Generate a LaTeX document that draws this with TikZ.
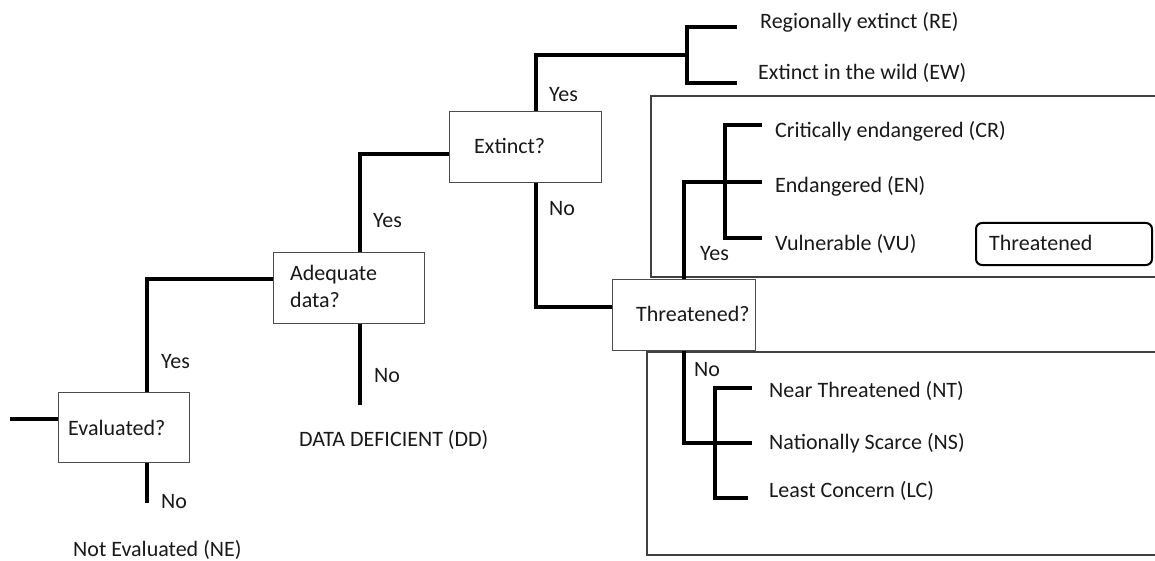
\documentclass[tikz,border=0pt]{standalone}
\usepackage{fontspec}
\setmainfont{Carlito}
\begin{document}
\begin{tikzpicture}[x=1pt,y=-1pt,font=\fontsize{22}{27}\selectfont,
  branch/.style={line width=4pt},
  fork/.style={line width=3.3pt},
  framebox/.style={draw=black!75,line width=1.2pt},
  decision/.style={draw=black!70,fill=white,line width=1pt,inner sep=0pt},
  lbl/.style={anchor=base west,inner sep=0pt,text=black!90}]
\useasboundingbox (0,0) rectangle (1155,561);
\clip (0,0) rectangle (1155,561);
% frames
\draw[framebox] (1160,96) -- (651,96) -- (651,277) -- (1160,277);
\draw[framebox] (1160,352) -- (647,352) -- (647,555) -- (1160,555);
% decision boxes
\node[decision, minimum width=131pt, minimum height=70pt] (eval) at (123.5,427) {};
\node[lbl] (evalt) at (68,435) {Evaluated?};
\node[decision, minimum width=151pt, minimum height=71pt] (adeq) at (348.5,287.5) {};
\node[lbl] (adeqt) at (290,280) {Adequate};
\node[lbl] (adeqt2) at (290,307) {data?};
\node[decision, minimum width=152pt, minimum height=71pt] (ext) at (525,147.5) {};
\node[lbl] (extt) at (474,154) {Extinct?};
\node[decision, minimum width=143pt, minimum height=71pt] (thr) at (683.5,314.5) {};
\node[lbl] (thrt) at (636,321) {Threatened?};
% tag box
\node[draw, line width=2pt, rounded corners=6pt, minimum width=176pt, minimum height=42pt, inner sep=0pt] (tag) at (1064,244) {};
\node[lbl] (tagt) at (989,250) {Threatened};
% coordinates
\coordinate (in) at (10,419);
\coordinate (c1) at (147,279);
\coordinate (ne) at (147,503);
\coordinate (c2) at (360,154);
\coordinate (dd) at (360,405);
\coordinate (c3) at (536,55);
\coordinate (f1) at (687,55);
\coordinate (re) at (737,27);
\coordinate (ew) at (737,83);
\coordinate (c4) at (536,307);
\coordinate (c5) at (762,182);
\coordinate (fx) at (725,182);
\coordinate (cr) at (762,125);
\coordinate (vu) at (762,238);
\coordinate (c6) at (752,443);
\coordinate (fy) at (715,443);
\coordinate (nt) at (752,388);
\coordinate (lc) at (748,498);
% connectors
\draw[branch] (in) -- (in -| eval.west);
\draw[branch] (c1 |- eval.north) -- (c1) -- (c1 -| adeq.west);
\draw[branch] (ne |- eval.south) -- (ne);
\draw[branch] (c2 |- adeq.north) -- (c2) -- (c2 -| ext.west);
\draw[branch] (dd |- adeq.south) -- (dd);
\draw[branch] (c3 |- ext.north) -- (c3) -- (f1);
\draw[fork] (re) -- (re -| f1) -- (ew -| f1) -- (ew);
\draw[branch] (c4 |- ext.south) -- (c4) -- (c4 -| thr.west);
\draw[branch] (thr.north) -- (thr.north |- c5) -- (c5);
\draw[fork] (cr) -- (cr -| fx) -- (vu -| fx) -- (vu);
\draw[branch] (thr.south) -- (thr.south |- c6) -- (c6);
\draw[fork] (nt) -- (nt -| fy) -- (lc -| fy) -- (lc);
% labels
\node[lbl] (y1) at (161,368) {Yes};
\node[lbl] (n1) at (161,508) {No};
\node[lbl] (ne_t) at (73,556) {Not Evaluated (NE)};
\node[lbl] (y2) at (373,228) {Yes};
\node[lbl] (n2) at (374,382) {No};
\node[lbl] (dd_t) at (299,446.5) {DATA DEFICIENT (DD)};
\node[lbl] (y3) at (549,102) {Yes};
\node[lbl] (n3) at (549,215) {No};
\node[lbl] (re_t) at (760,29) {Regionally extinct (RE)};
\node[lbl] (ew_t) at (758,80) {Extinct in the wild (EW)};
\node[lbl] (cr_t) at (775,138) {Critically endangered (CR)};
\node[lbl] (en_t) at (775,193) {Endangered (EN)};
\node[lbl] (vu_t) at (775,250) {Vulnerable (VU)};
\node[lbl] (y4) at (700,260) {Yes};
\node[lbl] (n4) at (694,376) {No};
\node[lbl] (nt_t) at (769,397) {Near Threatened (NT)};
\node[lbl] (ns_t) at (769,449) {Nationally Scarce (NS)};
\node[lbl] (lc_t) at (769,497) {Least Concern (LC)};
\end{tikzpicture}
\end{document}
